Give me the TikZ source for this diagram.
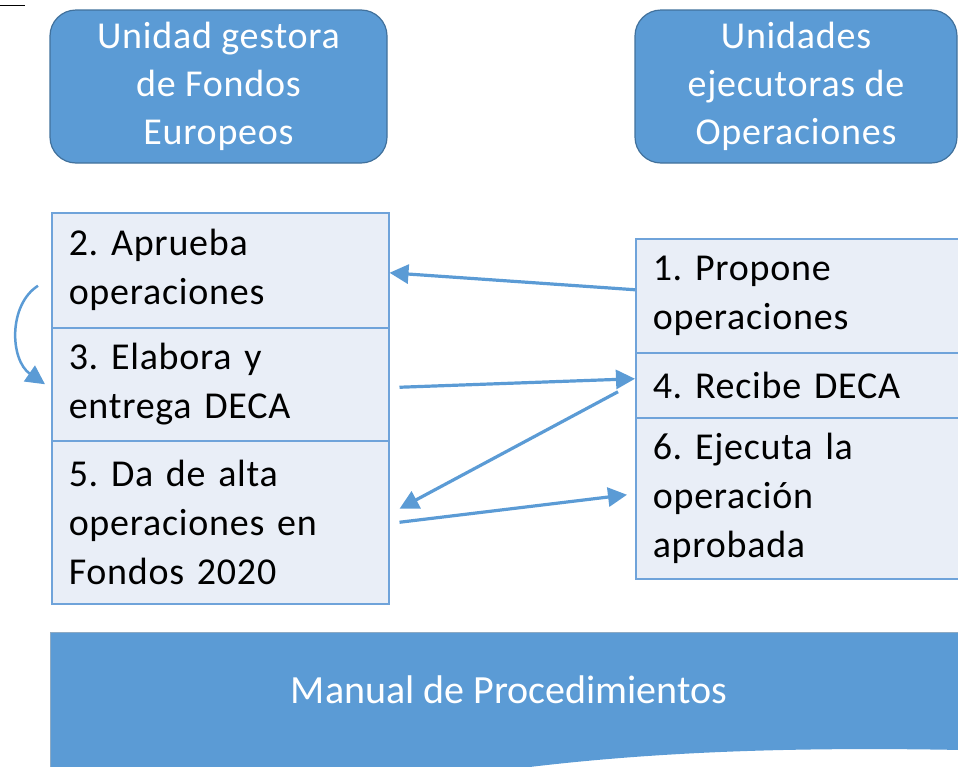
\documentclass[tikz,border=0pt]{standalone}
\usepackage{fontspec}
\setmainfont{Carlito}
\newfontfamily\spaced{Carlito}[LetterSpace=2]
\frenchspacing
\usetikzlibrary{arrows.meta}
\definecolor{hdrfill}{HTML}{5B9BD5}
\definecolor{hdrline}{HTML}{41719C}
\definecolor{cellfill}{HTML}{E9EEF7}
\definecolor{cellline}{HTML}{6FA3DA}
\definecolor{arrowc}{HTML}{5B9BD5}
\tikzset{
  header/.style={draw=hdrline, line width=1.2pt, fill=hdrfill, rounded corners=26pt,
    text=white, align=center, font=\spaced\frenchspacing\fontsize{38}{48}\selectfont, inner sep=0pt},
  cell/.style={draw=cellline, line width=1.5pt, fill=cellfill, anchor=north west,
    font=\spaced\frenchspacing\fontsize{38}{49}\selectfont, align=left, inner xsep=17pt, inner ysep=0pt},
  flow/.style={draw=arrowc, line width=3.2pt, -{Triangle[length=19pt,width=19pt]}},
}
\begin{document}
\begin{tikzpicture}[x=1pt,y=-1pt]
\useasboundingbox (0,0) rectangle (958,766);
\begin{scope}
\clip (0,0) rectangle (958,766);
% small line top left
\draw[line width=1pt] (0,5) coordinate (tl1) -- (25,5) coordinate (tl2);
% headers
\node[header, minimum width=337pt, minimum height=153pt] (h1) at (218.5,86.5)
  {Unidad gestora\\de Fondos\\Europeos};
\node[header, minimum width=322pt, minimum height=153pt] (h2) at (796,86.5)
  {Unidades\\ejecutoras de\\Operaciones};
% left stack
\node[cell, minimum width=337pt, minimum height=115pt, text width=303pt] (l1) at (51,212)
  {2. Aprueba\\operaciones};
\node[cell, minimum width=337pt, minimum height=113pt, text width=303pt] (l2) at (51,327)
  {3. Elabora y\\entrega DECA};
\node[cell, minimum width=337pt, minimum height=163pt, text width=303pt] (l3) at (51,440)
  {5. Da de alta\\operaciones en\\Fondos 2020};
% right stack
\node[cell, minimum width=340pt, minimum height=114pt, text width=306pt] (r1) at (635,238)
  {1. Propone\\operaciones};
\node[cell, minimum width=340pt, minimum height=65pt, text width=306pt] (r2) at (635,352)
  {4. Recibe DECA};
\node[cell, minimum width=340pt, minimum height=161pt, text width=306pt] (r3) at (635,417)
  {6. Ejecuta la\\operación\\aprobada};
% banner
\fill[hdrfill] (50,632) coordinate (b1) -- (962,632) -- (962,750)
  .. controls (700,745) and (520,760) .. (330,800) -- (50,800) -- cycle;
\draw[hdrline!60, line width=0.8pt] (50,800) -- (50,632) -- (962,632);
\node[text=white, font=\fontsize{40}{48}\selectfont] (man) at (509,690) {Manual de Procedimientos};
\end{scope}
% arrows
\draw[flow] ([yshift=6pt]r1.west) -- ([yshift=-2.5pt]l1.east);
\draw[flow] ([xshift=10pt,yshift=-3pt]l2.east) -- ([yshift=6.5pt]r2.west);
\draw[flow] ([xshift=-17pt,yshift=-6.5pt]r2.west) -- ([xshift=10pt,yshift=13.5pt]l3.west -| l3.east);
\draw[flow] ([xshift=10pt]l3.east) -- ([xshift=-8pt,yshift=3.5pt]r3.west);
\draw[flow, line width=2.5pt] ([xshift=-13pt,yshift=-15.5pt]l1.west) coordinate (cs)
  .. controls (8,305) and (10,360) .. ([xshift=-6pt]l2.west);
\end{tikzpicture}
\end{document}
